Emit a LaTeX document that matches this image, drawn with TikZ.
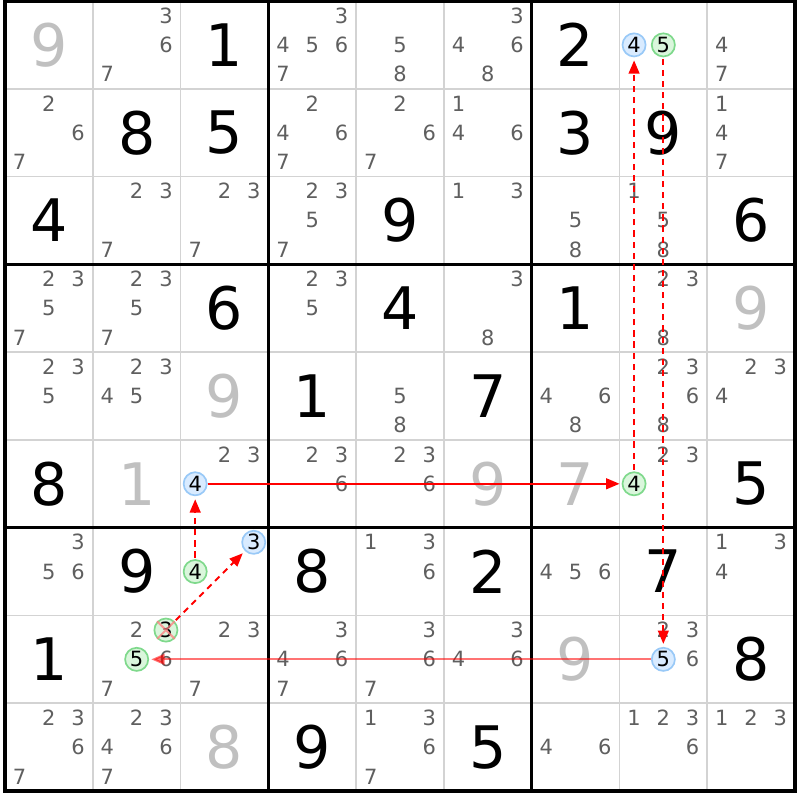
\documentclass[tikz,border=0pt]{standalone}
\usepackage{fontspec}
\setmainfont{DejaVu Sans}
\usetikzlibrary{arrows.meta}
\definecolor{candgray}{HTML}{5F5F5F}
\definecolor{solvedgray}{HTML}{C0C0C0}
\definecolor{gridgray}{HTML}{D3D3D3}
\definecolor{bluering}{HTML}{99C9F7}
\definecolor{bluefill}{HTML}{D9EBFF}
\definecolor{greenring}{HTML}{7FD98C}
\definecolor{greenfill}{HTML}{DAF6DC}
\definecolor{crosspink}{HTML}{FF7F7F}

\begin{document}
\begin{tikzpicture}[x=1cm,y=-1cm,>={Triangle[length=4.3pt,width=3.5pt]},
    given/.style={font=\fontsize{19}{19}\selectfont},
    solved/.style={given,text=solvedgray},
    cand/.style={font=\fontsize{6.8}{7}\selectfont,text=candgray,inner sep=0pt},
    pickB/.style={cand,text=black,circle,draw=bluering,fill=bluefill,line width=0.55pt,minimum size=7.5pt},
    pickG/.style={pickB,draw=greenring,fill=greenfill},
    link/.style={->,red,line width=0.6pt,dash pattern=on 2pt off 1.6pt,shorten >=1pt,shorten <=0.5pt}]
  \useasboundingbox (-0.057,-0.0114) rectangle (9.057,9.1025);

  \foreach \i in {1,...,8} {
    \draw[gridgray,line width=0.6pt] (\i,0) -- (\i,9);
    \draw[gridgray,line width=0.6pt] (0,\i) -- (9,\i);
  }
  \foreach \i in {3,6} {
    \draw[line width=1pt] (\i,0) -- (\i,9);
    \draw[line width=1pt] (0,\i) -- (9,\i);
  }
  \draw[line width=1.1pt] (0,0) rectangle (9,9);

  \foreach \r/\c/\d in {0/2/1,0/6/2,1/1/8,1/2/5,1/6/3,1/7/9,2/0/4,2/4/9,2/8/6,
      3/2/6,3/4/4,3/6/1,4/3/1,4/5/7,5/0/8,5/8/5,6/1/9,6/3/8,6/5/2,6/7/7,
      7/0/1,7/8/8,8/3/9,8/5/5}
    \node[given] (g\r\c) at (\c+.5,\r+.5) {\d};
  \foreach \r/\c/\d in {0/0/9,3/8/9,4/2/9,5/1/1,5/5/9,5/6/7,7/6/9,8/2/8}
    \node[solved] (g\r\c) at (\c+.5,\r+.5) {\d};

  \foreach \r/\c/\l in {0/1/{3,6,7},0/3/{3,4,5,6,7},0/4/{5,8},0/5/{3,4,6,8},0/8/{4,7},
      1/0/{2,6,7},1/3/{2,4,6,7},1/4/{2,6,7},1/5/{1,4,6},1/8/{1,4,7},
      2/1/{2,3,7},2/2/{2,3,7},2/3/{2,3,5,7},2/5/{1,3},2/6/{5,8},2/7/{1,5,8},
      3/0/{2,3,5,7},3/1/{2,3,5,7},3/3/{2,3,5},3/5/{3,8},3/7/{2,3,8},
      4/0/{2,3,5},4/1/{2,3,4,5},4/4/{5,8},4/6/{4,6,8},4/7/{2,3,6,8},4/8/{2,3,4},
      5/2/{2,3},5/3/{2,3,6},5/4/{2,3,6},5/7/{2,3},
      6/0/{3,5,6},6/4/{1,3,6},6/6/{4,5,6},6/8/{1,3,4},
      7/1/{2,6,7},7/2/{2,3,7},7/3/{3,4,6,7},7/4/{3,6,7},7/5/{3,4,6},7/7/{2,3,6},
      8/0/{2,3,6,7},8/1/{2,3,4,6,7},8/4/{1,3,6,7},8/6/{4,6},8/7/{1,2,3,6},8/8/{1,2,3}}
    \foreach \d in \l
      \node[cand] (k\r\c\d) at ({\c+(2*mod(\d-1,3)+1)/6},{\r+(2*floor((\d-1)/3)+1)/6}) {\d};

  \foreach \r/\c/\d/\s in {0/7/4/pickB,0/7/5/pickG,5/2/4/pickB,5/7/4/pickG,6/2/3/pickB,
      6/2/4/pickG,7/1/3/pickG,7/1/5/pickG,7/7/5/pickB}
    \node[\s] (m\r\c\d) at ({\c+(2*mod(\d-1,3)+1)/6},{\r+(2*floor((\d-1)/3)+1)/6}) {\d};

  \draw[crosspink,opacity=.75,line width=0.65pt] (m713.north west) -- (m713.south east)
    (m713.north east) -- (m713.south west);

  \draw[link] (m713) -- (m623);
  \draw[link] (m624) -- (m524);
  \draw[->,red,line width=0.5pt,shorten >=0.7pt] (m524) -- (m574);
  \draw[link] (m574) -- (m074);
  \draw[link] (m075) -- (m775);
  \draw[->,red,opacity=.55,line width=0.7pt,shorten >=0.7pt] (m775) -- (m715);
\end{tikzpicture}
\end{document}
